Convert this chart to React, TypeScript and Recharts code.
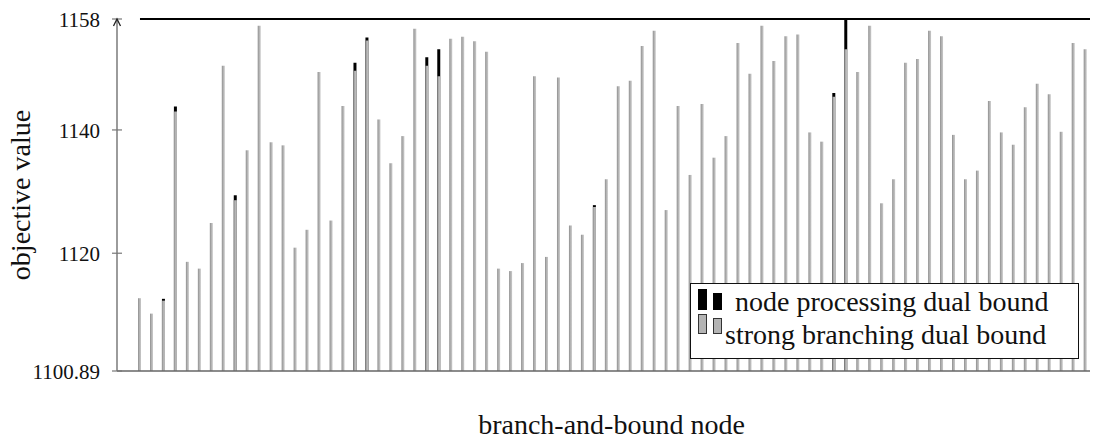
import { ComposedChart, Bar, XAxis, YAxis, ReferenceLine, Legend } from 'recharts'

// branch-and-bound nodes, left to right
const nodes = [
  1, 2, 3, 4, 5, 6, 7, 8, 9, 10, 11, 12, 13, 14, 15, 16, 17, 18, 19, 20,
  21, 22, 23, 24, 25, 26, 27, 28, 29, 30, 31, 32, 33, 34, 35, 36, 37, 38, 39, 40,
  41, 42, 43, 44, 45, 46, 47, 48, 49, 50, 51, 52, 53, 54, 55, 56, 57, 58, 59, 60,
  61, 62, 63, 64, 65, 66, 67, 68, 69, 70, 71, 72, 73, 74, 75, 76, 77, 78, 79, 80,
]

// strong branching dual bound (gray bars)
const sbBound = [
  1112.7, 1110.2, 1112.3, 1143.0, 1118.6, 1117.5, 1124.9, 1150.4, 1128.6, 1136.7,
  1156.9, 1138.0, 1137.5, 1120.9, 1123.8, 1149.4, 1125.3, 1143.9, 1149.6, 1154.5,
  1141.7, 1134.6, 1139.0, 1156.4, 1150.4, 1148.7, 1154.8, 1155.1, 1154.4, 1152.7,
  1117.5, 1117.1, 1118.4, 1148.7, 1119.4, 1148.5, 1124.5, 1123.0, 1127.5, 1132.0,
  1147.1, 1148.0, 1153.6, 1156.1, 1127.0, 1143.9, 1132.7, 1144.2, 1135.5, 1139.0,
  1154.1, 1149.1, 1156.9, 1151.2, 1155.2, 1155.5, 1139.6, 1138.1, 1145.4, 1153.1,
  1149.4, 1156.9, 1128.1, 1132.0, 1150.9, 1151.5, 1156.1, 1155.2, 1139.2, 1132.0,
  1133.4, 1144.7, 1139.6, 1137.6, 1143.7, 1147.5, 1145.8, 1139.7, 1154.1, 1153.1,
]

// node processing dual bound (black bars, only visible where above the gray one)
const npBound = [
  null, null, 1112.6, 1143.8, null, null, null, null, 1129.4, null,
  null, null, null, null, null, null, null, null, 1150.9, 1155.0,
  null, null, null, null, 1151.8, 1153.1, null, null, null, null,
  null, null, null, null, null, null, null, null, 1127.8, null,
  null, null, null, null, null, null, null, null, null, null,
  null, null, null, null, null, null, null, null, 1146.0, 1158.0,
  null, null, null, null, null, null, null, null, null, null,
  null, null, null, null, null, null, null, null, null, null,
]

const yTicks = [1100.89, 1120, 1140, 1158]
const yMin = 1100.89
const yMax = 1158
const xDomain = [-0.92, 81.03]

const data = nodes.map((node, i) => ({ node, sb: sbBound[i], np: npBound[i] }))

const serif = 'Liberation Serif, DejaVu Serif, Noto Serif, serif'

function YTick({ x, y, payload }: any) {
  const v = payload.value
  return (
    <g>
      <line x1={x - 5} x2={x + 5} y1={y} y2={y} stroke="#777" strokeWidth={1.2} />
      {v === yMax && (
        <path
          d={`M${x - 3.5},${y + 7} L${x},${y} L${x + 3.5},${y + 7}`}
          fill="none"
          stroke="#222"
          strokeWidth={1.3}
        />
      )}
      <text x={x - 17} y={y} dy="0.36em" textAnchor="end" style={{ fontFamily: serif, fontSize: 21 }} fill="#111">
        {v}
      </text>
    </g>
  )
}

function LegendBox() {
  return (
    <svg width={389} height={76} style={{ display: 'block' }}>
      <rect x={0.5} y={0.5} width={388} height={75} fill="#fff" stroke="#111" strokeWidth={1} />
      <rect x={8} y={6} width={9} height={21} fill="#000" />
      <rect x={23} y={10} width={9} height={17} fill="#000" />
      <text x={45} y={28} style={{ fontFamily: serif, fontSize: 28 }} fill="#111">
        node processing dual bound
      </text>
      <rect x={8.5} y={31.5} width={8} height={19} fill="#b4b4b4" stroke="#333" />
      <rect x={23.5} y={35.5} width={8} height={15} fill="#b4b4b4" stroke="#333" />
      <text x={35} y={61} style={{ fontFamily: serif, fontSize: 28 }} fill="#111">
        strong branching dual bound
      </text>
    </svg>
  )
}

export default function App() {
  return (
    <div style={{ margin: '-8px 0 0 -8px', width: 1098, height: 440, overflow: 'hidden' }}>
      <ComposedChart
        width={1098}
        height={440}
        data={data}
        margin={{ top: 19, right: 0, bottom: 39, left: 0 }}
        barGap={-3}
      >
        <defs>
          <linearGradient id="sbFill" x1="0" y1="0" x2="1" y2="0">
            <stop offset="0%" stopColor="#8e8e8e" />
            <stop offset="50%" stopColor="#b2b2b2" />
            <stop offset="100%" stopColor="#c8c8c8" />
          </linearGradient>
        </defs>
        <XAxis
          dataKey="node"
          type="number"
          domain={xDomain}
          allowDataOverflow
          tick={false}
          tickLine={false}
          axisLine={{ stroke: '#666', strokeWidth: 1.3 }}
          height={30}
          label={{
            content: ({ viewBox }: any) => (
              <text
                x={viewBox.x + viewBox.width / 2 + 4}
                y={viewBox.y + 63}
                textAnchor="middle"
                style={{ fontFamily: serif, fontSize: 28 }}
                fill="#111"
              >
                branch-and-bound node
              </text>
            ),
          }}
        />
        <YAxis
          type="number"
          domain={[yMin, yMax]}
          ticks={yTicks}
          allowDataOverflow
          width={117}
          tickSize={0}
          tickMargin={0}
          tickLine={false}
          tick={<YTick />}
          axisLine={{ stroke: '#666', strokeWidth: 1.3 }}
          label={{
            content: ({ viewBox }: any) => (
              <text
                x={viewBox.x + 30}
                y={viewBox.y + viewBox.height / 2}
                textAnchor="middle"
                transform={`rotate(-90, ${viewBox.x + 30}, ${viewBox.y + viewBox.height / 2})`}
                style={{ fontFamily: serif, fontSize: 28 }}
                fill="#111"
              >
                objective value
              </text>
            ),
          }}
        />
        <ReferenceLine
          segment={[
            { x: nodes[0], y: yMax },
            { x: xDomain[1], y: yMax },
          ]}
          stroke="#000"
          strokeWidth={2.2}
          ifOverflow="visible"
        />
        <Bar dataKey="np" barSize={3} fill="#000" isAnimationActive={false} />
        <Bar dataKey="sb" barSize={3} fill="url(#sbFill)" isAnimationActive={false} />
        <Legend
          layout="horizontal"
          verticalAlign="middle"
          align="center"
          content={() => <LegendBox />}
          wrapperStyle={{ position: 'absolute', left: 690, top: 283, width: 389, height: 76 }}
        />
      </ComposedChart>
    </div>
  )
}
